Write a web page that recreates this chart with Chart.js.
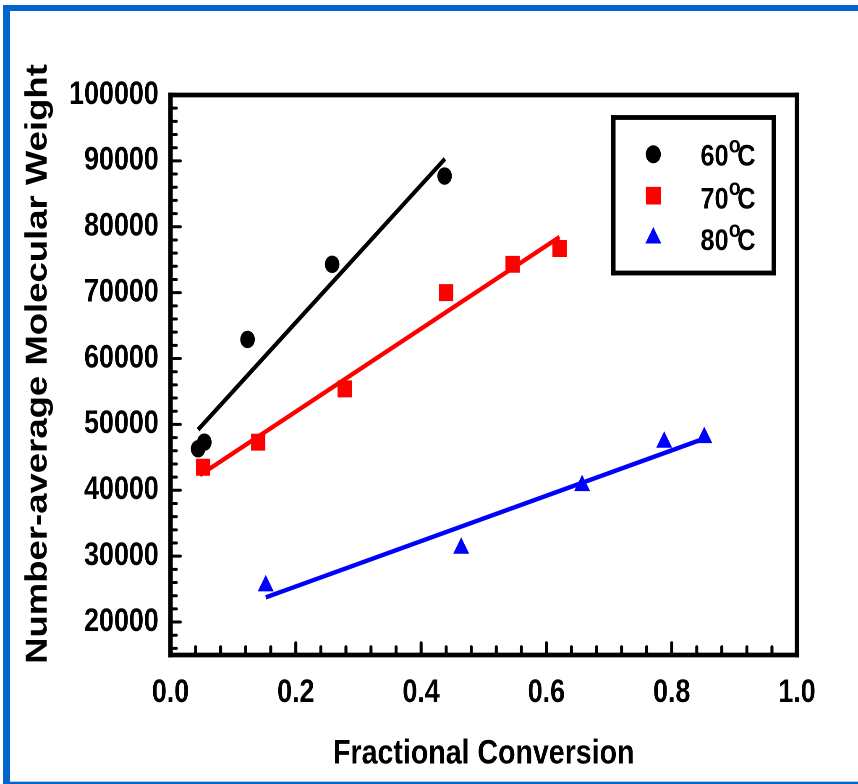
<!DOCTYPE html>
<html><head><meta charset="utf-8">
<script src="https://cdn.jsdelivr.net/npm/chart.js@4/dist/chart.umd.min.js"></script>
<style>
html,body{margin:0;padding:0;background:#fff;overflow:hidden;width:858px;height:784px}
#wrap{width:1022px;height:784px;transform:scaleX(0.839530);transform-origin:0 0}
canvas{display:block;width:1022px;height:784px}
</style></head><body><div id="wrap"><canvas id="c" width="1022" height="784"></canvas></div>
<script>
// ---- data ----
const conv60 = [0.044, 0.054, 0.123, 0.258, 0.4375];
const mn60   = [46300, 47300, 62900, 74300, 87700];
const conv70 = [0.052, 0.140, 0.278, 0.440, 0.546, 0.621];
const mn70   = [43500, 47300, 55400, 70000, 74300, 76700];
const conv80 = [0.152, 0.464, 0.657, 0.788, 0.852];
const mn80   = [25500, 31200, 40700, 47300, 48000];
const fit60X = [0.044, 0.438], fit60Y = [49200, 90300];
const fit70X = [0.047, 0.621], fit70Y = [42300, 78450];
const fit80X = [0.152, 0.852], fit80Y = [23750, 47850];
const seriesTemps = ['60', '70', '80'];
const xTickValues = [0, 0.2, 0.4, 0.6, 0.8, 1.0];
const xTickLabels = ['0.0', '0.2', '0.4', '0.6', '0.8', '1.0'];
const yTickValues = [20000, 30000, 40000, 50000, 60000, 70000, 80000, 90000, 100000];
const yTickLabels = ['20000', '30000', '40000', '50000', '60000', '70000', '80000', '90000', '100000'];
const xTitle = 'Fractional Conversion';
const yTitle = 'Number-average Molecular Weight';
const xMinorStep = 0.04, yMinorStep = 2000;

// ---- layout helpers ----
const W = 1022, H = 784;
const S = 858 / W;              // horizontal squeeze of the whole figure
const sx = v => v / S;          // screen x -> canvas x
const FONT = '"Liberation Sans", Arial, Helvetica, sans-serif';
Chart.defaults.font.family = FONT;
Chart.defaults.color = '#000';

const pts = (xs, ys) => xs.map((x, i) => ({x: x, y: ys[i]}));
const colors = ['#000000', '#ff0000', '#0000ff'];
const styles = ['circle', 'rect', 'triangle'];
const radii = [8.7, 12, 11];

function drawMarker(ctx, style, r, x, y, color) {
  ctx.save();
  ctx.fillStyle = color;
  if (Chart.helpers && Chart.helpers.drawPoint) {
    Chart.helpers.drawPoint(ctx, {pointStyle: style, radius: r, rotation: 0, borderWidth: 0}, x, y);
  } else {
    ctx.beginPath();
    if (style === 'circle') ctx.arc(x, y, r, 0, Math.PI * 2);
    else if (style === 'rect') { const s = r * Math.SQRT1_2; ctx.rect(x - s, y - s, 2 * s, 2 * s); }
    else { ctx.moveTo(x, y - r); ctx.lineTo(x + r * 0.866, y + r / 2); ctx.lineTo(x - r * 0.866, y + r / 2); ctx.closePath(); }
    ctx.fill();
  }
  ctx.restore();
}

const decor = {
  id: 'decor',
  beforeDraw(chart) {
    const ctx = chart.ctx;
    ctx.save();
    ctx.fillStyle = '#0066cc';
    ctx.fillRect(sx(3), 5, chart.width, 6);
    ctx.fillRect(sx(3), 5, sx(7), chart.height);
    ctx.fillRect(sx(3), 781.7, chart.width, 4);
    ctx.restore();
  },
  afterDraw(chart) {
    const ctx = chart.ctx, a = chart.chartArea, xs = chart.scales.x, ys = chart.scales.y;
    ctx.save();
    // y axis title (rotated)
    ctx.save();
    ctx.fillStyle = '#000';
    ctx.font = 'bold 36.5px ' + FONT;
    ctx.textAlign = 'center';
    ctx.textBaseline = 'middle';
    ctx.translate(sx(38), 364);
    ctx.rotate(-Math.PI / 2);
    ctx.fillText(yTitle, 0, 0);
    ctx.restore();

    ctx.strokeStyle = '#000';
    ctx.lineCap = 'round';
    // y ticks (inward)
    ctx.lineWidth = 3;
    for (let v = ys.min + yMinorStep / 2; v < ys.max; v += yMinorStep) {
      const val = Math.round(v / 1000) * 1000;
      if (val <= ys.min || val >= ys.max) continue;
      const py = ys.getPixelForValue(val);
      const major = val % 10000 === 0;
      ctx.beginPath();
      ctx.moveTo(a.left, py);
      ctx.lineTo(a.left + sx(major ? 10 : 6), py);
      ctx.stroke();
    }
    // x ticks (inward)
    ctx.lineWidth = sx(3);
    for (let i = 1; i * xMinorStep < xs.max - 1e-9; i++) {
      const val = i * xMinorStep;
      const px = xs.getPixelForValue(val);
      const major = i % 5 === 0;
      ctx.beginPath();
      ctx.moveTo(px, a.bottom);
      ctx.lineTo(px, a.bottom - (major ? 12 : 8));
      ctx.stroke();
    }
    // frame
    ctx.fillStyle = '#000';
    const hw = sx(4.5) / 2, hh = 2.35;
    ctx.fillRect(a.left - hw, a.top - hh, a.right - a.left + 2 * hw, 2 * hh);
    ctx.fillRect(a.left - hw, a.bottom - hh, a.right - a.left + 2 * hw, 2 * hh);
    ctx.fillRect(a.left - hw, a.top - hh, 2 * hw, a.bottom - a.top + 2 * hh);
    ctx.fillRect(a.right - hw, a.top - hh, 2 * hw, a.bottom - a.top + 2 * hh);

    // legend box
    const L = sx(613.3), R = sx(773.8), T = 117.5, B = 273;
    const lw = sx(4.5) / 2, lh = 2.4;
    ctx.fillRect(L - lw, T - lh, R - L + 2 * lw, 2 * lh);
    ctx.fillRect(L - lw, B - lh, R - L + 2 * lw, 2 * lh);
    ctx.fillRect(L - lw, T - lh, 2 * lw, B - T + 2 * lh);
    ctx.fillRect(R - lw, T - lh, 2 * lw, B - T + 2 * lh);
    const markerY = [154.3, 195.7, 238];
    const legendRadii = [9, 12.5, 11];
    const baseY = [165.7, 208.3, 250];
    for (let i = 0; i < 3; i++) {
      drawMarker(ctx, styles[i], legendRadii[i], sx(653.3), markerY[i], colors[i]);
      ctx.fillStyle = '#000';
      ctx.textBaseline = 'alphabetic';
      ctx.textAlign = 'left';
      ctx.font = 'bold 30px ' + FONT;
      ctx.fillText(seriesTemps[i], sx(700.5), baseY[i]);
      ctx.font = 'bold 23px ' + FONT;
      ctx.fillText('o', sx(728.8), baseY[i] - 13.2);
      ctx.font = 'bold 30px ' + FONT;
      ctx.fillText('C', sx(737.3), baseY[i]);
    }
    ctx.restore();
  }
};

const markerSets = [[conv60, mn60], [conv70, mn70], [conv80, mn80]];
const fitSets = [[fit60X, fit60Y], [fit70X, fit70Y], [fit80X, fit80Y]];
const datasets = [];
markerSets.forEach((s, i) => datasets.push({
  label: seriesTemps[i] + '°C', data: pts(s[0], s[1]),
  pointStyle: styles[i], pointRadius: radii[i], pointHoverRadius: radii[i],
  backgroundColor: colors[i], borderColor: colors[i], pointBorderWidth: 0, borderWidth: 0,
  showLine: false, order: 0
}));
fitSets.forEach((s, i) => datasets.push({
  label: 'fit ' + seriesTemps[i], data: pts(s[0], s[1]),
  showLine: true, pointRadius: 0, pointHoverRadius: 0, borderColor: colors[i], backgroundColor: colors[i],
  borderWidth: 4.5, borderCapStyle: 'butt', fill: false, order: 1
}));

new Chart(document.getElementById('c'), {
  type: 'scatter',
  data: {datasets: datasets},
  options: {
    responsive: false, maintainAspectRatio: false, animation: false, devicePixelRatio: 2,
    layout: {padding: {left: 0, top: 95, right: W - sx(797), bottom: 0}},
    plugins: {legend: {display: false}, tooltip: {enabled: false}},
    scales: {
      x: {
        type: 'linear', min: 0, max: 1,
        afterBuildTicks: s => { s.ticks = xTickValues.map(v => ({value: v})); },
        afterFit: s => { s.height = H - 655; },
        grid: {display: false, drawTicks: false}, border: {display: false},
        ticks: {autoSkip: false, maxRotation: 0, padding: 19, color: '#000',
          font: {size: 32, weight: 'bold', lineHeight: 1.2},
          callback: (v, i) => xTickLabels[i]},
        title: {display: true, text: xTitle, color: '#000',
          font: {size: 34, weight: 'bold', lineHeight: 1.2}, padding: {top: 0, bottom: 9.6}}
      },
      y: {
        type: 'linear', min: 15000, max: 100000,
        afterBuildTicks: s => { s.ticks = yTickValues.map(v => ({value: v})); },
        afterFit: s => { s.width = sx(170.5); },
        grid: {display: false, drawTicks: false}, border: {display: false},
        ticks: {autoSkip: false, padding: 14, color: '#000',
          font: {size: 32, weight: 'bold', lineHeight: 1.2},
          callback: (v, i) => yTickLabels[i]},
        title: {display: false, text: yTitle}
      }
    }
  },
  plugins: [decor]
});
</script></body></html>
